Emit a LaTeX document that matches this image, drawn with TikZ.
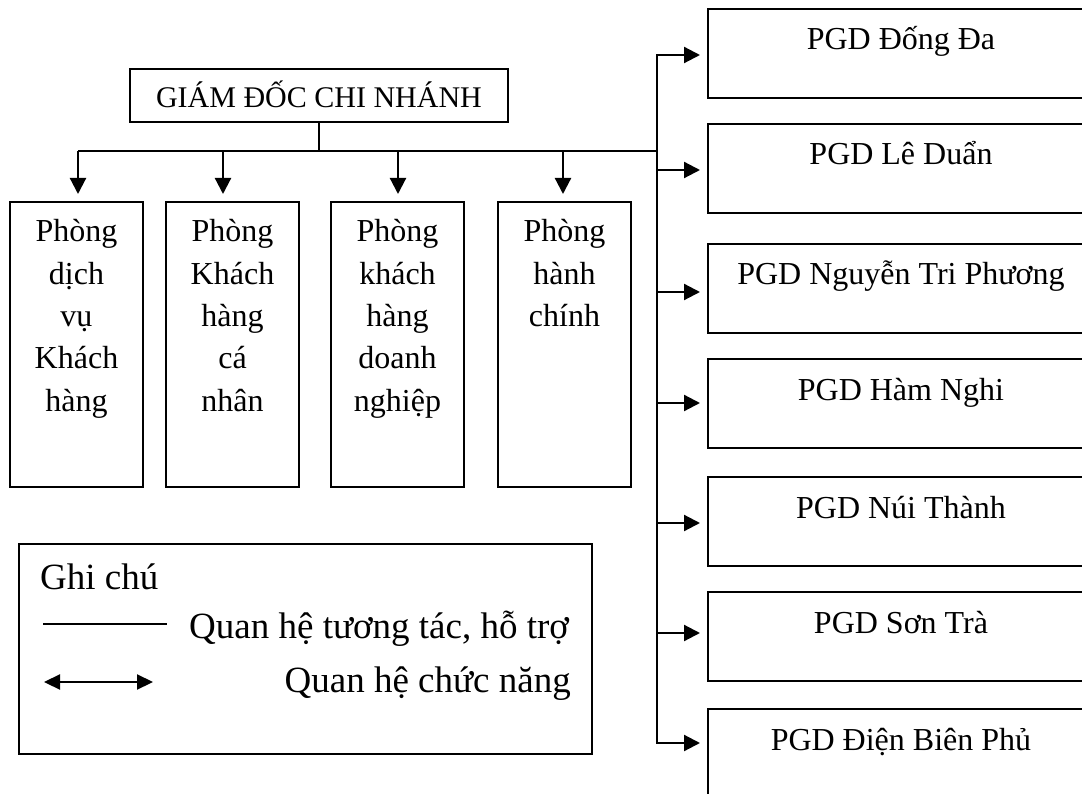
\documentclass[tikz,border=0pt]{standalone}
\usepackage{fontspec}
\setmainfont{Liberation Serif}
\usetikzlibrary{arrows.meta}
\newcommand\colbox[1]{\parbox[c][285pt][t]{133pt}{\centering\rule{0pt}{40pt}#1}}
\newcommand\pgdbox[1]{\parbox[c][89pt][t]{386pt}{\centering\rule{0pt}{41pt}#1}}
\begin{document}
\begin{tikzpicture}[x=1pt,y=-1pt,
  box/.style={draw, line width=1.4pt, inner sep=0pt, outer sep=0pt, anchor=north west},
  arr/.style={-{Triangle[length=16pt,width=16pt]}, line width=2.2pt, shorten >=8pt},
  arrtwo/.style={{Triangle[length=16pt,width=16pt]}-{Triangle[length=16pt,width=16pt]}, line width=2.2pt, shorten >=8pt, shorten <=8pt},
  bus/.style={line width=1.4pt},
  txt/.style={font=\fontsize{32}{42.3}\selectfont},
  leg/.style={font=\fontsize{37}{44}\selectfont, inner sep=0pt}]
\useasboundingbox (0,0) rectangle (1082,794);
\clip (0,0) rectangle (1082,794);

% top box
\node[box, minimum width=378pt, minimum height=53pt,
      font=\fontsize{30}{36}\selectfont, text height=24pt, text depth=0pt]
      (gd) at (130,69) {GIÁM ĐỐC CHI NHÁNH};

% departments
\node[box, txt] (p1) at (10,202)  {\colbox{Phòng\\dịch\\vụ\\Khách\\hàng}};
\node[box, txt] (p2) at (166,202) {\colbox{Phòng\\Khách\\hàng\\cá\\nhân}};
\node[box, txt] (p3) at (331,202) {\colbox{Phòng\\khách\\hàng\\doanh\\nghiệp}};
\node[box, txt] (p4) at (498,202) {\colbox{Phòng\\hành\\chính}};

% branch offices
\node[box, txt] (b1) at (708,9)   {\pgdbox{PGD Đống Đa}};
\node[box, txt] (b2) at (708,124) {\pgdbox{PGD Lê Duẩn}};
\node[box, txt] (b3) at (708,244) {\pgdbox{PGD Nguyễn Tri Phương}};
\node[box, txt] (b4) at (708,359) {\pgdbox{PGD Hàm Nghi}};
\node[box, txt] (b5) at (708,477) {\pgdbox{PGD Núi Thành}};
\node[box, txt] (b6) at (708,592) {\pgdbox{PGD Sơn Trà}};
\node[box, txt] (b7) at (708,709) {\pgdbox{PGD Điện Biên Phủ}};

% bus
\coordinate (busL) at (78,151);
\coordinate (busR) at (657,151);
\draw[bus] (gd.south) -- (gd.south |- busR);
\draw[bus] (busL) -- (busR);

\coordinate (d2) at (223,151);
\coordinate (d3) at (398,151);
\coordinate (d4) at (563,151);
\draw[arr] (busL) -- (busL |- p1.north);
\draw[arr] (d2) -- (d2 |- p2.north);
\draw[arr] (d3) -- (d3 |- p3.north);
\draw[arr] (d4) -- (d4 |- p4.north);

% spine to branch offices
\coordinate (a1) at (657,55);
\coordinate (a2) at (657,170);
\coordinate (a3) at (657,292);
\coordinate (a4) at (657,403);
\coordinate (a5) at (657,523);
\coordinate (a6) at (657,633);
\coordinate (a7) at (657,743);
\draw[arrtwo] (a1 -| b1.west) -- (a1) -- (a7) -- (a7 -| b7.west);
\draw[arr] (a2) -- (a2 -| b2.west);
\draw[arr] (a3) -- (a3 -| b3.west);
\draw[arr] (a4) -- (a4 -| b4.west);
\draw[arr] (a5) -- (a5 -| b5.west);
\draw[arr] (a6) -- (a6 -| b6.west);

% legend
\node[box, minimum width=573pt, minimum height=210pt] (lg) at (19,544) {};
\node[leg, anchor=base west] (gc) at (40,589) {Ghi chú};
\coordinate (l1a) at (43,624);
\coordinate (l1b) at (167,624);
\draw[line width=1.3pt] (l1a) -- (l1b);
\node[leg, anchor=base west] (t1) at (189,638) {Quan hệ tương tác, hỗ trợ};
\coordinate (l2a) at (44,682);
\coordinate (l2b) at (153,682);
\draw[{Triangle[length=16pt,width=15pt]}-{Triangle[length=16pt,width=15pt]}, line width=2.2pt] (l2a) -- (l2b);
\node[leg, anchor=base east] (t2) at (571,692) {Quan hệ chức năng};
\end{tikzpicture}
\end{document}
